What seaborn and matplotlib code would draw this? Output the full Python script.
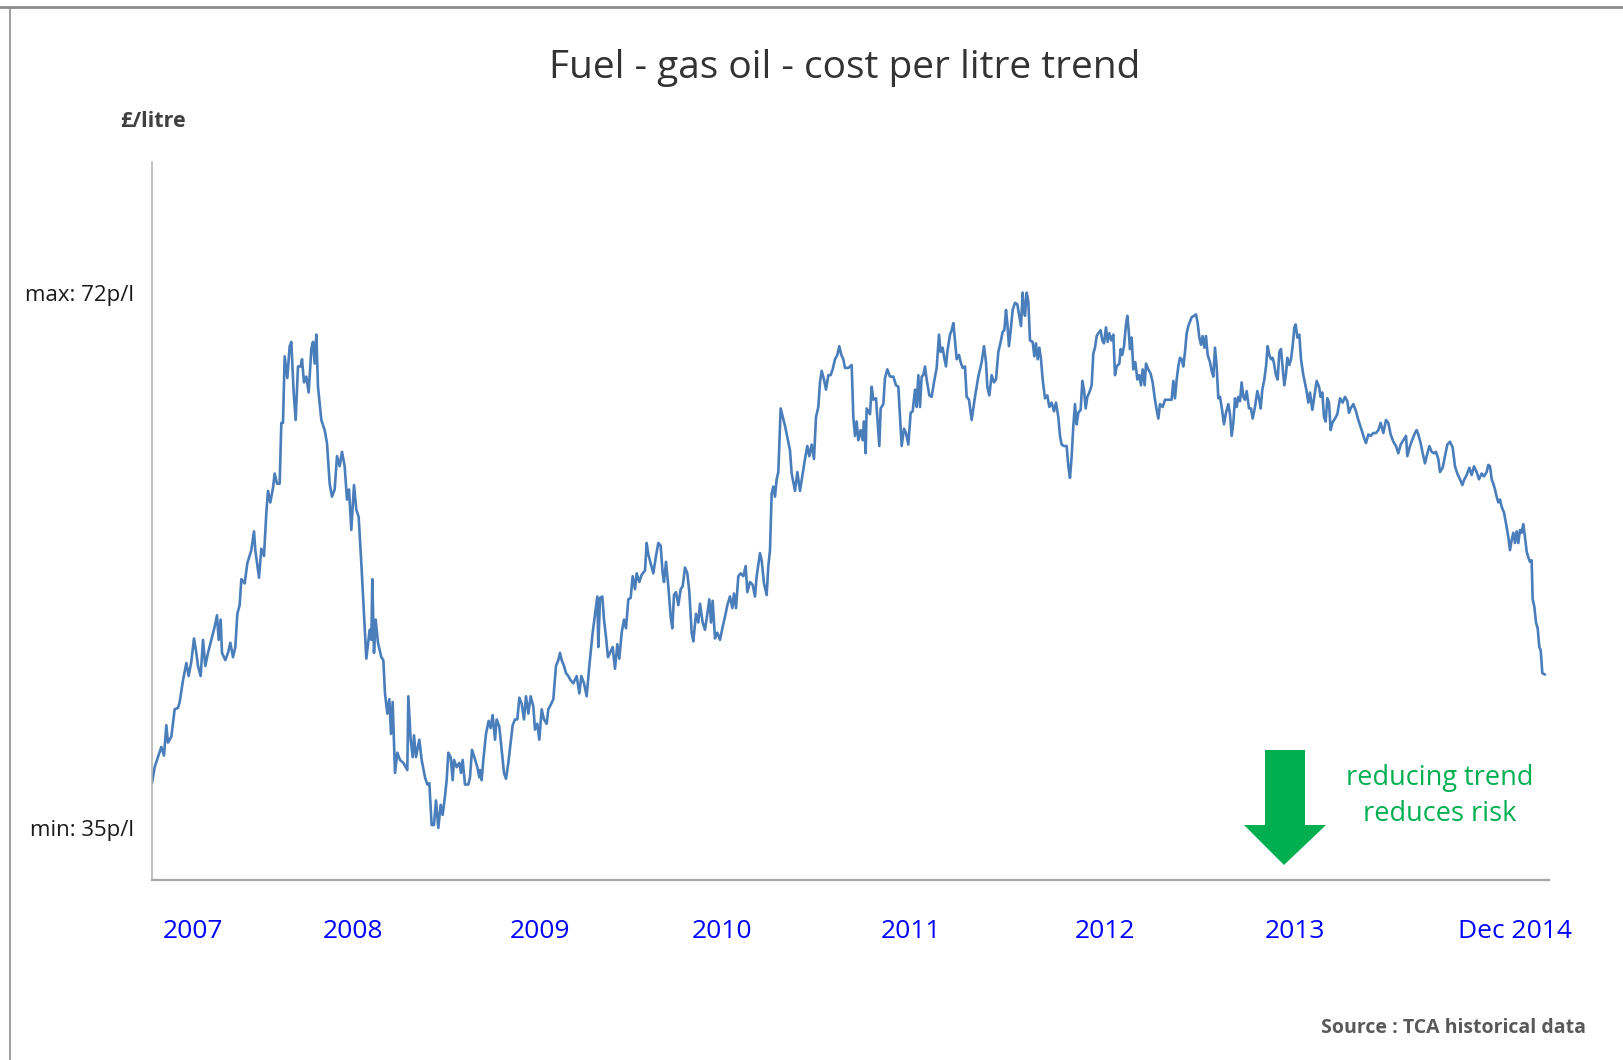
import matplotlib
matplotlib.use("Agg")
import matplotlib.pyplot as plt
from matplotlib.patches import Polygon
from matplotlib.lines import Line2D
import pandas as pd
import seaborn as sns

# Weekly gas oil price, weeks counted from the start of 2007, pence per litre
weeks = [
    0.0, 0.8, 1.8, 2.8, 3.6, 4.3, 4.8, 5.8, 6.8, 7.8,
    8.3, 9.3, 10.3, 11.0, 11.8, 12.6, 13.3, 13.8, 14.6, 15.3,
    16.0, 16.8, 17.8, 18.8, 19.5, 20.0, 20.6, 21.0, 22.0, 22.8,
    23.5, 24.3, 25.0, 25.6, 26.3, 26.8, 27.8, 28.6, 29.8, 30.6,
    31.0, 32.1, 32.8, 33.6, 34.3, 34.8, 35.5, 36.3, 36.8, 37.5,
    38.3, 38.8, 39.3, 39.8, 40.6, 41.3, 41.8, 42.5, 43.1, 43.8,
    44.6, 45.0, 45.6, 46.3, 47.0, 47.8, 48.3, 48.8, 49.3, 49.8,
    50.8, 51.8, 52.5, 53.3, 54.0, 54.8, 55.5, 56.3, 57.0, 57.8,
    58.5, 59.1, 59.8, 60.6, 61.3, 62.0, 62.8, 63.6, 64.3, 65.3,
    65.8, 66.1, 66.6, 67.1, 67.8, 68.8,
    69.4, 69.9, 70.6, 71.2, 71.7, 72.2, 72.9, 73.6, 74.4, 75.4,
    76.6, 76.9, 77.6, 78.2, 78.6, 79.2, 80.2, 80.9, 81.9, 82.6,
    83.2, 83.9, 84.6, 85.2, 85.9, 86.6, 87.2, 87.9, 88.4, 88.9,
    89.6, 90.2, 90.6, 91.4, 92.2, 92.7, 93.2, 93.9, 94.9, 95.4,
    96.0, 96.7, 97.6, 98.2, 98.4, 98.9, 99.4, 100.2, 101.0, 101.6,
    102.2, 102.9, 103.4, 104.2, 104.9, 105.6, 106.2, 106.9, 107.6, 108.2,
    108.9, 109.6, 110.2, 110.9, 111.6, 112.2, 112.9, 113.6, 114.4, 114.9,
    115.6, 116.2, 116.9, 117.6, 118.4, 118.9, 119.6, 120.4, 121.2, 121.9,
    122.4, 122.9, 123.6, 124.2, 124.9, 125.6, 126.4, 127.4, 128.2, 128.8,
    129.6, 130.4, 131.2, 132.2, 133.2, 133.6, 133.9, 134.4, 135.1, 135.6,
    136.2, 136.8, 137.4,
    138.2, 138.9, 139.6, 140.2, 140.9, 141.6, 142.2, 142.9, 143.6, 144.2,
    144.9, 145.4, 146.2, 146.9, 147.9, 148.4, 148.9, 149.6, 150.4, 151.2,
    151.9, 152.6, 153.2, 153.6, 154.2, 154.9, 155.6, 156.1, 156.6, 157.2,
    157.9, 158.6, 159.2, 159.9, 160.6, 161.2, 161.9, 162.4, 163.2, 163.9,
    164.4, 165.2, 165.9, 166.6, 167.2, 167.7, 168.2, 168.9, 169.6, 170.4,
    171.2, 171.9, 172.6, 173.4, 174.1, 174.6, 175.2, 175.9, 176.6, 177.4,
    178.1, 178.6, 179.4, 180.2, 180.9, 181.4, 182.4, 182.9, 183.6, 184.4,
    184.9, 185.4, 185.9, 186.4, 186.9, 187.4, 187.9, 188.6, 189.9, 191.4,
    191.9, 192.9, 193.6, 194.4, 195.2, 195.9, 196.6, 197.2, 197.9, 198.6,
    199.2, 199.9, 200.4, 200.9, 201.6, 202.2, 202.9, 203.6, 204.2, 204.9,
    205.6, 206.2, 206.8, 207.4, 207.9, 208.9,
    209.9, 210.4, 210.9, 211.4, 211.9, 212.6, 213.2, 213.6, 214.1, 214.4,
    215.4, 215.9, 216.4, 217.2, 217.6, 218.2, 218.6, 219.4, 219.9, 220.6,
    221.4, 222.4, 223.2, 223.9, 224.4, 224.9, 225.6, 226.2, 226.9, 227.6,
    228.2, 228.9, 229.4, 229.9, 230.4, 230.9, 231.4, 231.9, 232.4, 233.2,
    233.9, 234.6, 235.4, 236.1, 236.6, 237.2, 237.6, 238.2, 238.6, 239.4,
    239.9, 240.4, 240.9, 241.4, 242.1, 242.6, 243.2, 243.9, 244.4, 245.1,
    245.9, 246.9, 247.9, 248.9, 249.6, 250.2, 250.6, 251.2, 251.9, 252.6,
    253.2, 253.9, 254.6, 255.2, 255.7, 256.2, 256.6, 257.1, 257.6, 258.2,
    258.9, 259.6, 260.2, 260.7, 261.2, 261.6, 261.9, 262.4, 262.9, 263.4,
    264.2, 264.7, 265.2, 265.7, 266.2, 266.7, 267.2, 267.9, 268.6, 269.2,
    269.9, 270.6, 271.2, 271.9, 272.4, 272.9, 273.6, 274.4, 274.9, 275.4,
    275.9, 276.4, 276.9, 277.4, 277.9, 278.6, 279.1, 279.6, 280.1, 280.6,
    281.2, 281.9, 282.4, 282.9, 283.4, 283.9, 284.6, 285.1, 285.6, 286.2,
    286.7, 287.2, 287.8, 288.4, 288.9, 289.4, 290.2, 290.6, 291.1, 291.6,
    292.2, 292.6, 293.0, 293.4, 293.9, 294.4, 295.0, 295.6, 296.2, 296.7,
    297.2, 297.8, 298.2, 298.9, 299.6, 300.2, 300.9, 301.4, 301.9, 302.4,
    303.2, 303.9, 304.9, 305.9, 306.4, 306.9, 307.4, 307.9, 308.4, 308.9,
    309.4, 309.9, 310.4, 310.9, 311.4, 311.9, 312.6, 313.2, 313.7, 314.2,
    314.7, 315.2, 315.7, 316.2, 316.7, 317.4, 317.9, 318.4, 318.9, 319.4,
    319.9, 320.4, 320.9, 321.6, 322.2, 322.9, 323.4, 323.9, 324.4, 324.9,
    325.4, 325.9, 326.4, 326.9, 327.4, 327.9, 328.4, 329.1, 329.7, 330.2,
    330.9, 331.6, 332.2, 332.6, 333.1, 333.7, 334.2, 334.7, 335.2, 335.7,
    336.2, 336.6, 337.2, 337.7, 338.2, 338.7, 339.2, 339.7, 340.2, 340.6,
    341.2, 341.7, 342.2, 342.7, 343.1, 343.6, 344.2, 344.7,
    345.4, 346.3, 346.9, 347.4, 348.1, 348.9, 349.4, 350.1, 350.6, 351.1,
    351.6, 352.1, 352.6, 353.1, 353.6, 354.1, 354.9, 355.6, 356.4, 357.2,
    357.9, 358.6, 359.1, 359.6, 360.4, 361.2, 361.9, 362.9, 363.7, 364.2,
    364.9, 365.6, 366.4, 367.2, 367.9, 368.6, 369.4, 370.2, 370.9, 371.6,
    372.4, 373.2, 373.9, 374.6, 375.4, 376.2, 376.6, 377.4, 378.2, 378.9,
    379.4, 379.9, 380.6, 381.2, 381.9, 382.4, 383.2, 383.9, 384.6, 385.2,
    385.9, 386.4, 387.2, 387.9, 388.6, 389.4, 390.2, 390.9, 391.6, 392.4,
    393.1, 393.7, 394.4, 395.2, 395.9, 396.6, 397.4, 398.1, 398.9, 399.6,
    400.4, 400.9, 401.4, 401.9, 402.4, 402.9, 403.4, 403.9, 404.4, 404.9,
    405.6, 406.4, 406.9, 407.4, 407.9, 408.4, 408.9, 409.4, 409.9, 410.4,
    410.9, 411.4, 411.9, 412.4, 412.9, 413.4, 413.9, 414.2, 414.7, 415.2,
    415.7, 416.2, 416.6, 417.1, 417.9,
]

price_p = [
    38.1, 39.2, 39.9, 40.6, 40.0, 42.1, 40.9, 41.3, 43.2, 43.3,
    43.7, 45.2, 46.4, 45.5, 46.5, 48.1, 47.1, 46.2, 45.5, 48.0,
    46.2, 47.1, 48.0, 48.9, 49.7, 48.0, 49.4, 47.1, 46.6, 47.1,
    47.8, 46.8, 47.5, 49.8, 50.4, 52.2, 51.9, 53.3, 54.2, 55.5,
    54.2, 52.3, 54.3, 53.8, 56.8, 58.3, 57.5, 58.5, 59.5, 58.8,
    58.8, 63.0, 63.0, 67.6, 66.1, 68.3, 68.6, 65.1, 63.2, 66.9,
    66.9, 67.4, 65.8, 66.2, 65.1, 68.1, 68.6, 67.1, 69.1, 65.5,
    63.2, 62.5, 61.6, 58.8, 57.9, 58.4, 60.7, 60.0, 61.0, 60.0,
    57.7, 58.4, 55.6, 58.7, 57.0, 56.5, 53.3, 49.8, 46.7, 48.7,
    48.0, 52.2, 47.1, 49.4, 47.8, 46.8,
    46.6, 44.3, 42.9, 43.9, 41.5, 43.7, 38.8, 40.2, 39.7, 39.5,
    39.0, 44.1, 41.1, 39.9, 41.4, 39.9, 41.1, 39.7, 38.5, 38.0,
    38.1, 35.2, 35.2, 36.9, 35.0, 36.6, 35.9, 37.2, 38.3, 40.2,
    39.9, 38.3, 39.7, 39.2, 39.5, 38.8, 39.7, 38.0, 38.0, 38.5,
    40.4, 39.9, 39.2, 38.5, 39.0, 38.3, 39.7, 41.5, 42.4, 41.9,
    42.8, 41.1, 42.5, 42.0, 40.4, 38.8, 38.4, 39.5, 40.9, 42.1,
    42.5, 42.5, 44.0, 43.6, 42.5, 44.1, 42.9, 44.1, 43.4, 41.8,
    42.2, 41.1, 43.2, 42.5, 42.2, 43.2, 43.5, 43.9, 46.2, 46.6,
    47.1, 46.6, 46.2, 45.7, 45.5, 45.2, 45.0, 45.5, 44.3, 45.5,
    45.0, 44.1, 46.2, 48.5, 50.3, 51.0, 47.5, 50.9, 51.0, 49.4,
    48.2, 46.8, 47.1,
    47.5, 46.0, 47.7, 46.7, 48.5, 49.4, 48.8, 50.8, 50.9, 52.4,
    51.5, 52.6, 52.0, 52.5, 52.8, 54.7, 53.9, 53.3, 52.6, 53.8,
    54.7, 54.5, 52.6, 52.0, 53.4, 51.7, 49.6, 48.8, 51.1, 51.3,
    50.4, 51.5, 51.7, 53.0, 52.6, 51.3, 48.5, 47.9, 49.8, 49.2,
    50.5, 49.2, 48.7, 49.8, 50.8, 49.2, 50.7, 48.1, 48.5, 48.0,
    48.9, 49.6, 50.4, 51.0, 50.2, 51.2, 50.2, 52.4, 52.6, 52.4,
    53.1, 51.3, 52.0, 51.8, 51.0, 52.4, 54.0, 53.5, 51.9, 51.1,
    53.1, 54.2, 58.1, 58.6, 57.9, 59.1, 59.6, 64.0, 62.8, 61.1,
    59.5, 58.3, 59.6, 58.3, 59.5, 60.5, 61.4, 60.7, 61.5, 60.5,
    63.4, 64.1, 65.8, 66.6, 66.0, 65.3, 66.3, 66.3, 66.7, 67.4,
    67.7, 68.3, 67.7, 67.4, 66.8, 66.8,
    67.0, 63.4, 62.1, 63.1, 61.8, 62.5, 61.8, 63.1, 60.9, 64.0,
    63.6, 65.5, 64.6, 64.7, 63.4, 61.4, 64.0, 64.3, 66.1, 66.7,
    66.2, 66.2, 65.6, 65.5, 63.4, 61.4, 62.6, 62.3, 61.5, 63.7,
    63.8, 65.3, 64.1, 66.3, 64.1, 66.2, 66.3, 66.9, 66.0, 64.9,
    64.8, 65.8, 66.8, 69.1, 67.9, 68.2, 67.6, 66.9, 67.9, 69.1,
    69.4, 69.9, 68.7, 67.4, 67.7, 67.2, 66.8, 66.9, 64.8, 64.6,
    63.2, 64.8, 66.2, 67.2, 68.3, 67.2, 65.5, 64.9, 66.3, 65.8,
    66.0, 67.9, 68.6, 69.3, 69.4, 70.8, 69.9, 68.3, 69.4, 70.8,
    71.3, 71.2, 70.4, 69.7, 72.0, 70.8, 70.4, 72.0, 71.4, 68.7,
    68.6, 67.6, 68.5, 67.4, 68.2, 67.4, 66.0, 64.7, 64.9, 64.1,
    64.4, 63.8, 64.4, 63.4, 62.1, 61.5, 61.4, 61.4, 60.0, 59.2,
    60.7, 62.8, 64.3, 62.9, 63.7, 63.9, 65.9, 65.3, 64.0, 64.8,
    65.1, 65.6, 67.8, 68.2, 69.0, 69.2, 69.4, 68.7, 68.5, 69.6,
    68.6, 69.2, 68.7, 69.1, 66.3, 66.9, 67.1, 68.1, 67.7, 68.3,
    69.8, 70.4, 69.4, 68.1, 68.9, 66.7, 67.2, 66.0, 66.3, 65.6,
    66.7, 65.6, 67.1, 66.7, 66.4, 65.8, 64.6, 63.9, 63.3, 64.3,
    64.1, 64.6, 64.6, 64.6, 65.9, 64.7, 66.0, 66.9, 67.5, 67.4,
    66.9, 67.9, 69.2, 69.7, 70.0, 70.3, 70.4, 70.5, 69.9, 68.9,
    68.4, 69.0, 68.2, 69.0, 67.7, 67.2, 66.6, 66.2, 68.2, 66.9,
    64.7, 64.8, 64.1, 62.9, 63.7, 64.3, 63.6, 62.1, 63.0, 64.7,
    64.1, 64.8, 64.5, 65.8, 64.8, 64.6, 65.2, 64.0, 64.0, 63.3,
    64.1, 65.2, 64.6, 64.0, 65.3, 66.0, 66.9, 68.3, 67.7, 67.4,
    67.5, 67.1, 66.3, 66.0, 67.9, 68.1, 66.8, 65.6, 66.4, 67.5,
    67.0, 67.4, 68.3, 69.6, 69.8, 68.9, 69.1, 67.4,
    66.3, 65.3, 64.4, 65.1, 63.9, 65.1, 65.9, 65.5, 64.8, 65.1,
    63.4, 63.1, 64.7, 64.4, 62.5, 63.0, 63.3, 63.6, 64.7, 64.4,
    64.8, 64.5, 63.7, 64.0, 64.3, 63.8, 63.2, 62.5, 61.9, 61.6,
    62.2, 62.1, 62.3, 62.3, 62.5, 63.0, 62.3, 63.2, 63.0, 62.2,
    61.7, 61.4, 60.9, 61.5, 61.8, 62.1, 60.7, 61.4, 61.9, 62.3,
    62.5, 62.2, 61.6, 60.9, 60.2, 60.7, 61.4, 61.0, 60.9, 61.0,
    60.5, 59.6, 59.9, 60.7, 61.5, 61.7, 61.3, 60.0, 59.5, 59.1,
    58.7, 59.1, 59.4, 59.9, 59.4, 60.0, 59.6, 59.1, 59.5, 59.3,
    59.6, 60.1, 60.0, 59.1, 58.8, 58.4, 57.9, 57.5, 57.7, 57.2,
    56.8, 55.8, 55.1, 54.2, 54.9, 55.4, 54.7, 55.5, 54.7, 55.6,
    55.4, 56.0, 55.1, 54.1, 53.7, 53.4, 53.5, 50.8, 50.3, 49.2,
    48.8, 47.5, 47.3, 45.7, 45.6,
]

# Year labels along the time axis (week positions where they sit)
year_label_weeks = [12.2, 60.3, 116.4, 171.1, 227.6, 285.9, 342.9, 408.9]
year_labels = ["2007", "2008", "2009", "2010", "2011", "2012", "2013", "Dec 2014"]

# Marked extremes on the value axis
extreme_values = [35, 72]
extreme_labels = ["min: 35p/l", "max: 72p/l"]

df = pd.DataFrame({"week": weeks, "price": price_p})

sns.set_theme(style="white")
plt.rcParams["font.family"] = ["Open Sans", "DejaVu Sans"]

W, H = 1623, 1060
fig = plt.figure(figsize=(W / 100, H / 100), dpi=100)
fig.patch.set_facecolor("white")

ax = fig.add_axes([0.09365, 0.16981, 0.86075, 0.67689])
sns.lineplot(data=df, x="week", y="price", ax=ax, color="#4A7EBB",
             linewidth=1.9, estimator=None, sort=False)

ax.set_xlim(0, 419.1)
ax.set_ylim(31.4, 81.0)
ax.set_xlabel("")
ax.set_ylabel("")

for side in ("top", "right"):
    ax.spines[side].set_visible(False)
ax.spines["left"].set_color("#B0B0B0")
ax.spines["left"].set_linewidth(1.1)
ax.spines["bottom"].set_color("#A6A6A6")
ax.spines["bottom"].set_linewidth(1.6)

ax.set_yticks(extreme_values, extreme_labels)
ax.tick_params(axis="y", length=0, pad=13, labelsize=16, labelcolor="#1A1A1A")
ax.set_xticks(year_label_weeks, year_labels)
ax.tick_params(axis="x", length=0, pad=28, labelsize=19, labelcolor="#0000FF")
ax.grid(False)

# Titles and notes
fig.text(0.5204, 0.9360, "Fuel - gas oil - cost per litre trend",
         ha="center", va="center", fontsize=28, color="#333333")
fig.text(0.0943, 0.8858, "£/litre", ha="center", va="center",
         fontsize=15.5, fontweight="bold", color="#404040")
fig.text(0.9772, 0.0302, "Source : TCA historical data", ha="right", va="center",
         fontsize=14, fontweight="bold", color="#595959")

green = "#00B050"
fig.text(0.8872, 0.2660, "reducing trend", ha="center", va="center",
         fontsize=19.5, color=green)
fig.text(0.8872, 0.2320, "reduces risk", ha="center", va="center",
         fontsize=19.5, color=green)

# Downward block arrow
arrow_px = [(1265, 750), (1305, 750), (1305, 825), (1326, 825),
            (1284, 865), (1244, 825), (1265, 825)]
arrow = Polygon([(x / W, 1 - y / H) for x, y in arrow_px], closed=True,
                transform=fig.transFigure, facecolor=green, edgecolor="none")
fig.patches.append(arrow)

# Outer frame edges
fig.lines.append(Line2D([0, 1], [1 - 7 / H, 1 - 7 / H], transform=fig.transFigure,
                        color="#8C8C8C", linewidth=2.0))
fig.lines.append(Line2D([10 / W, 10 / W], [0, 1 - 7 / H], transform=fig.transFigure,
                        color="#8C8C8C", linewidth=1.2))

fig.savefig("out.png", dpi=100, facecolor="white")
